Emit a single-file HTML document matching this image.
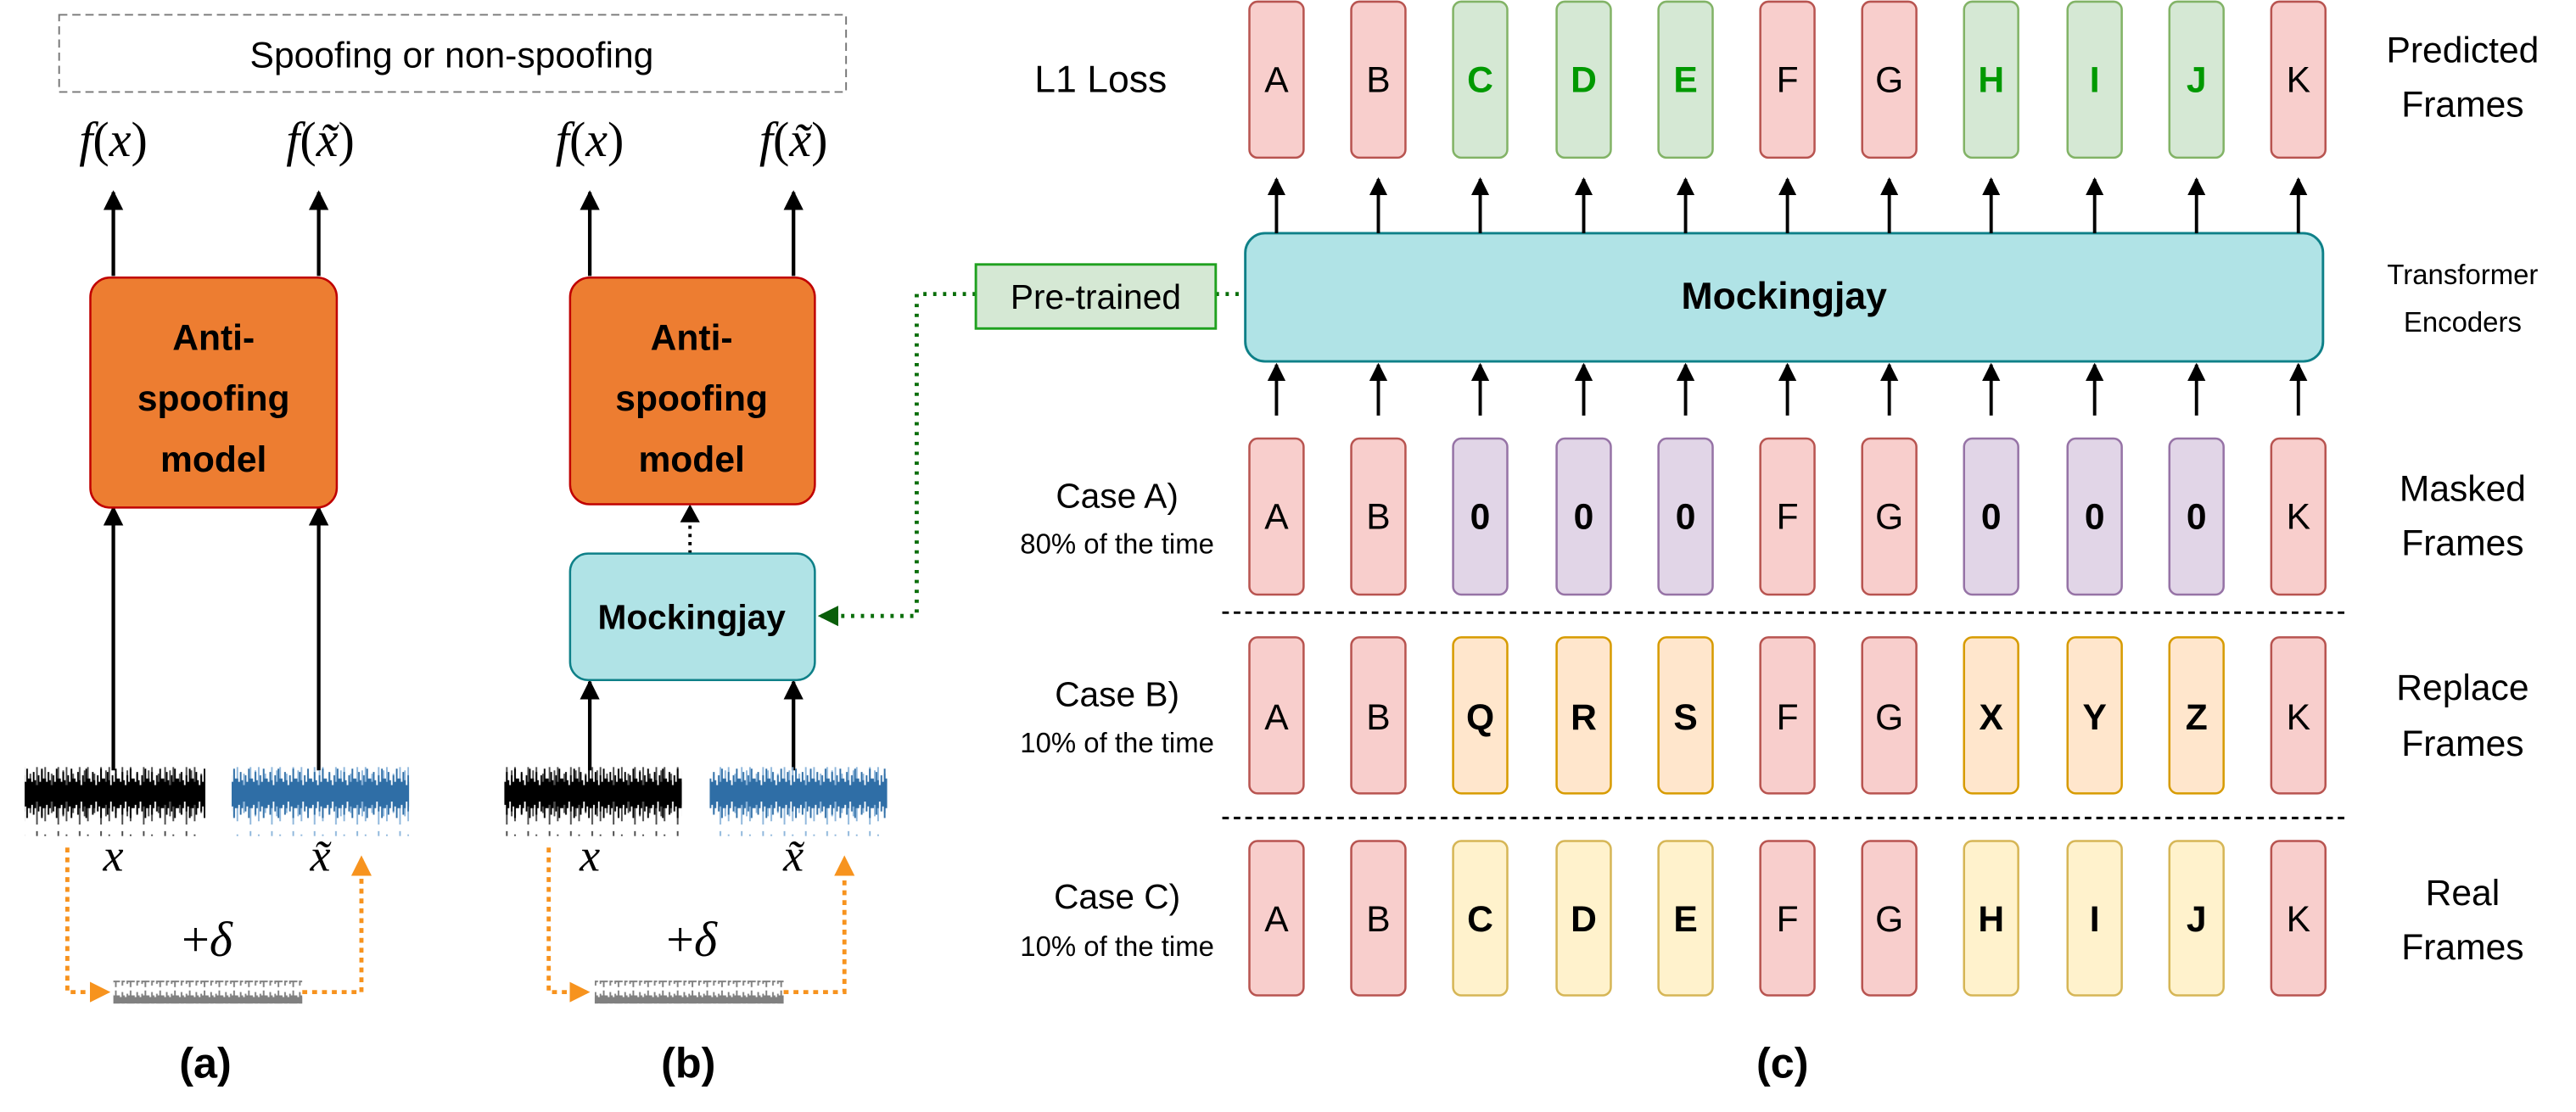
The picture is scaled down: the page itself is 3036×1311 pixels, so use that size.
<!DOCTYPE html>
<html><head><meta charset="utf-8"><style>html,body{margin:0;padding:0;background:#fff}svg{display:block}</style></head><body>
<svg width="3036" height="1311" viewBox="0 0 1568 677" preserveAspectRatio="none" xmlns="http://www.w3.org/2000/svg" font-family="Liberation Sans, sans-serif">
<defs>
<marker id="ah" viewBox="0 0 10 10" refX="9" refY="5" markerWidth="5.5" markerHeight="6" orient="auto" markerUnits="strokeWidth"><path d="M0,0 L10,5 L0,10 z" fill="#000"/></marker>
<marker id="ao" viewBox="0 0 10 10" refX="9" refY="5" markerWidth="5" markerHeight="5" orient="auto" markerUnits="strokeWidth"><path d="M0,0 L10,5 L0,10 z" fill="#f7931e"/></marker>
<marker id="ag" viewBox="0 0 10 10" refX="9" refY="5" markerWidth="5" markerHeight="5" orient="auto" markerUnits="strokeWidth"><path d="M0,0 L10,5 L0,10 z" fill="#0a5e0a"/></marker>
<pattern id="wk" width="9" height="42" patternUnits="userSpaceOnUse"><path d="M0.5,12V30M1.5,14V28M2.5,8V34M3.5,13V30M4.5,16V26M5.5,10V32M6.5,14V29M7.5,6V36M8.5,12V30" stroke="#000" stroke-width="1"/></pattern>
<pattern id="wk2" width="13" height="42" patternUnits="userSpaceOnUse"><path d="M1.5,4V38M5.5,9V33M9.5,2V40M12.5,7V35" stroke="#000" stroke-width="1" opacity="0.7"/></pattern>
<pattern id="wb" width="9" height="42" patternUnits="userSpaceOnUse"><path d="M0.5,12V30M1.5,14V28M2.5,8V34M3.5,13V30M4.5,16V26M5.5,10V32M6.5,14V29M7.5,6V36M8.5,12V30" stroke="#2f6ea6" stroke-width="1"/></pattern>
<pattern id="wb2" width="13" height="42" patternUnits="userSpaceOnUse"><path d="M1.5,4V38M5.5,9V33M9.5,2V40M12.5,7V35" stroke="#8fb7dc" stroke-width="1"/></pattern>
<pattern id="wg" width="9" height="14" patternUnits="userSpaceOnUse"><path d="M0.5,4V10M1.5,5V9M2.5,2V12M3.5,4V10M4.5,5V9M5.5,3V11M6.5,4V10M7.5,1V13M8.5,4V10" stroke="#808080" stroke-width="1"/></pattern>
</defs>

<rect x="36" y="9" width="479" height="47" fill="none" stroke="#777" stroke-width="1" stroke-dasharray="5,3"/>
<text x="275" y="41" font-size="22" text-anchor="middle">Spoofing or non-spoofing</text>

<g font-family="Liberation Serif, serif" font-size="30" text-anchor="middle">
<text x="69" y="95"><tspan font-style="italic">f</tspan>(<tspan font-style="italic">x</tspan>)</text>
<text x="195" y="95"><tspan font-style="italic">f</tspan>(<tspan font-style="italic">x̃</tspan>)</text>
<text x="359" y="95"><tspan font-style="italic">f</tspan>(<tspan font-style="italic">x</tspan>)</text>
<text x="483" y="95"><tspan font-style="italic">f</tspan>(<tspan font-style="italic">x̃</tspan>)</text>
</g>

<g stroke="#000" stroke-width="2.2" marker-end="url(#ah)">
<line x1="69" y1="168" x2="69" y2="117"/><line x1="194" y1="168" x2="194" y2="117"/>
<line x1="359" y1="168" x2="359" y2="117"/><line x1="483" y1="168" x2="483" y2="117"/>
<line x1="69" y1="469" x2="69" y2="309"/><line x1="194" y1="469" x2="194" y2="309"/>
<line x1="359" y1="469" x2="359" y2="415"/><line x1="483" y1="469" x2="483" y2="415"/>
</g>
<line x1="420" y1="337" x2="420" y2="308" stroke="#000" stroke-width="2" stroke-dasharray="2,3"/>
<path d="M414,318 L426,318 L420,307 z" fill="#000"/>

<g font-weight="bold" font-size="22" text-anchor="middle">
<rect x="55" y="169" width="150" height="140" rx="12" fill="#ed7d31" stroke="#c00000" stroke-width="1.3"/>
<text x="130" y="213">Anti-</text><text x="130" y="250">spoofing</text><text x="130" y="287">model</text>
<rect x="347" y="169" width="149" height="138" rx="12" fill="#ed7d31" stroke="#c00000" stroke-width="1.3"/>
<text x="421" y="213">Anti-</text><text x="421" y="250">spoofing</text><text x="421" y="287">model</text>
<rect x="347" y="337" width="149" height="77" rx="11" fill="#b0e3e6" stroke="#0e8088" stroke-width="1.3"/>
<text x="421" y="383" font-size="21">Mockingjay</text>
</g>

<rect x="15" y="467" width="110" height="42" fill="url(#wk)"/><rect x="15" y="467" width="110" height="42" fill="url(#wk2)"/>
<rect x="141" y="467" width="108" height="42" fill="url(#wb2)"/><rect x="141" y="467" width="108" height="42" fill="url(#wb)"/>
<rect x="307" y="467" width="108" height="42" fill="url(#wk)"/><rect x="307" y="467" width="108" height="42" fill="url(#wk2)"/>
<rect x="432" y="467" width="108" height="42" fill="url(#wb2)"/><rect x="432" y="467" width="108" height="42" fill="url(#wb)"/>
<rect x="69" y="597" width="115" height="14" fill="url(#wg)"/>
<rect x="362" y="597" width="115" height="14" fill="url(#wg)"/>

<g font-family="Liberation Serif, serif" font-style="italic" font-size="28" text-anchor="middle">
<text x="69" y="530">x</text><text x="195" y="530">x̃</text>
<text x="359" y="530">x</text><text x="483" y="530">x̃</text>
</g>
<g font-family="Liberation Serif, serif" font-size="30" text-anchor="middle">
<text x="126" y="582">+<tspan font-style="italic">δ</tspan></text>
<text x="421" y="582">+<tspan font-style="italic">δ</tspan></text>
</g>

<g fill="none" stroke="#f7931e" stroke-width="2.5" stroke-dasharray="3,3">
<polyline points="41,516 41,604 66,604" marker-end="url(#ao)"/>
<polyline points="184,604 220,604 220,522" marker-end="url(#ao)"/>
<polyline points="334,516 334,604 358,604" marker-end="url(#ao)"/>
<polyline points="477,604 514,604 514,522" marker-end="url(#ao)"/>
</g>

<g font-weight="bold" font-size="26" text-anchor="middle">
<text x="125" y="656">(a)</text><text x="419" y="656">(b)</text><text x="1085" y="656">(c)</text>
</g>

<g fill="none" stroke="#0a6e0a" stroke-width="2.5" stroke-dasharray="2,4">
<polyline points="594,179 558,179 558,375 499,375" marker-end="url(#ag)"/>
<line x1="740" y1="179" x2="758" y2="179"/>
</g>
<rect x="594" y="161" width="146" height="39" fill="#d5e8d4" stroke="#1fa11f" stroke-width="1.5"/>
<text x="667" y="188" font-size="21" text-anchor="middle">Pre-trained</text>

<rect x="758" y="142" width="656" height="78" rx="12" fill="#b0e3e6" stroke="#0e8088" stroke-width="1.5"/>
<text x="1086" y="188" font-size="23" font-weight="bold" text-anchor="middle">Mockingjay</text>

<g stroke="#000" stroke-width="2" marker-end="url(#ah)">
<line x1="777" y1="142" x2="777" y2="109"/><line x1="839" y1="142" x2="839" y2="109"/><line x1="901" y1="142" x2="901" y2="109"/><line x1="964" y1="142" x2="964" y2="109"/><line x1="1026" y1="142" x2="1026" y2="109"/><line x1="1088" y1="142" x2="1088" y2="109"/><line x1="1150" y1="142" x2="1150" y2="109"/><line x1="1212" y1="142" x2="1212" y2="109"/><line x1="1275" y1="142" x2="1275" y2="109"/><line x1="1337" y1="142" x2="1337" y2="109"/><line x1="1399" y1="142" x2="1399" y2="109"/>
<line x1="777" y1="253" x2="777" y2="222"/><line x1="839" y1="253" x2="839" y2="222"/><line x1="901" y1="253" x2="901" y2="222"/><line x1="964" y1="253" x2="964" y2="222"/><line x1="1026" y1="253" x2="1026" y2="222"/><line x1="1088" y1="253" x2="1088" y2="222"/><line x1="1150" y1="253" x2="1150" y2="222"/><line x1="1212" y1="253" x2="1212" y2="222"/><line x1="1275" y1="253" x2="1275" y2="222"/><line x1="1337" y1="253" x2="1337" y2="222"/><line x1="1399" y1="253" x2="1399" y2="222"/>
</g>

<g stroke-width="1.3">
<g>
<rect x="760.5" y="1" width="33" height="95" rx="5" fill="#f8cecc" stroke="#b85450"/>
<rect x="822.5" y="1" width="33" height="95" rx="5" fill="#f8cecc" stroke="#b85450"/>
<rect x="884.5" y="1" width="33" height="95" rx="5" fill="#d5e8d4" stroke="#82b366"/>
<rect x="947.5" y="1" width="33" height="95" rx="5" fill="#d5e8d4" stroke="#82b366"/>
<rect x="1009.5" y="1" width="33" height="95" rx="5" fill="#d5e8d4" stroke="#82b366"/>
<rect x="1071.5" y="1" width="33" height="95" rx="5" fill="#f8cecc" stroke="#b85450"/>
<rect x="1133.5" y="1" width="33" height="95" rx="5" fill="#f8cecc" stroke="#b85450"/>
<rect x="1195.5" y="1" width="33" height="95" rx="5" fill="#d5e8d4" stroke="#82b366"/>
<rect x="1258.5" y="1" width="33" height="95" rx="5" fill="#d5e8d4" stroke="#82b366"/>
<rect x="1320.5" y="1" width="33" height="95" rx="5" fill="#d5e8d4" stroke="#82b366"/>
<rect x="1382.5" y="1" width="33" height="95" rx="5" fill="#f8cecc" stroke="#b85450"/>
</g>
<g>
<rect x="760.5" y="267" width="33" height="95" rx="5" fill="#f8cecc" stroke="#b85450"/>
<rect x="822.5" y="267" width="33" height="95" rx="5" fill="#f8cecc" stroke="#b85450"/>
<rect x="884.5" y="267" width="33" height="95" rx="5" fill="#e1d5e7" stroke="#9673a6"/>
<rect x="947.5" y="267" width="33" height="95" rx="5" fill="#e1d5e7" stroke="#9673a6"/>
<rect x="1009.5" y="267" width="33" height="95" rx="5" fill="#e1d5e7" stroke="#9673a6"/>
<rect x="1071.5" y="267" width="33" height="95" rx="5" fill="#f8cecc" stroke="#b85450"/>
<rect x="1133.5" y="267" width="33" height="95" rx="5" fill="#f8cecc" stroke="#b85450"/>
<rect x="1195.5" y="267" width="33" height="95" rx="5" fill="#e1d5e7" stroke="#9673a6"/>
<rect x="1258.5" y="267" width="33" height="95" rx="5" fill="#e1d5e7" stroke="#9673a6"/>
<rect x="1320.5" y="267" width="33" height="95" rx="5" fill="#e1d5e7" stroke="#9673a6"/>
<rect x="1382.5" y="267" width="33" height="95" rx="5" fill="#f8cecc" stroke="#b85450"/>
</g>
<g>
<rect x="760.5" y="388" width="33" height="95" rx="5" fill="#f8cecc" stroke="#b85450"/>
<rect x="822.5" y="388" width="33" height="95" rx="5" fill="#f8cecc" stroke="#b85450"/>
<rect x="884.5" y="388" width="33" height="95" rx="5" fill="#ffe6cc" stroke="#d79b00"/>
<rect x="947.5" y="388" width="33" height="95" rx="5" fill="#ffe6cc" stroke="#d79b00"/>
<rect x="1009.5" y="388" width="33" height="95" rx="5" fill="#ffe6cc" stroke="#d79b00"/>
<rect x="1071.5" y="388" width="33" height="95" rx="5" fill="#f8cecc" stroke="#b85450"/>
<rect x="1133.5" y="388" width="33" height="95" rx="5" fill="#f8cecc" stroke="#b85450"/>
<rect x="1195.5" y="388" width="33" height="95" rx="5" fill="#ffe6cc" stroke="#d79b00"/>
<rect x="1258.5" y="388" width="33" height="95" rx="5" fill="#ffe6cc" stroke="#d79b00"/>
<rect x="1320.5" y="388" width="33" height="95" rx="5" fill="#ffe6cc" stroke="#d79b00"/>
<rect x="1382.5" y="388" width="33" height="95" rx="5" fill="#f8cecc" stroke="#b85450"/>
</g>
<g>
<rect x="760.5" y="512" width="33" height="94" rx="5" fill="#f8cecc" stroke="#b85450"/>
<rect x="822.5" y="512" width="33" height="94" rx="5" fill="#f8cecc" stroke="#b85450"/>
<rect x="884.5" y="512" width="33" height="94" rx="5" fill="#fff2cc" stroke="#d6b656"/>
<rect x="947.5" y="512" width="33" height="94" rx="5" fill="#fff2cc" stroke="#d6b656"/>
<rect x="1009.5" y="512" width="33" height="94" rx="5" fill="#fff2cc" stroke="#d6b656"/>
<rect x="1071.5" y="512" width="33" height="94" rx="5" fill="#f8cecc" stroke="#b85450"/>
<rect x="1133.5" y="512" width="33" height="94" rx="5" fill="#f8cecc" stroke="#b85450"/>
<rect x="1195.5" y="512" width="33" height="94" rx="5" fill="#fff2cc" stroke="#d6b656"/>
<rect x="1258.5" y="512" width="33" height="94" rx="5" fill="#fff2cc" stroke="#d6b656"/>
<rect x="1320.5" y="512" width="33" height="94" rx="5" fill="#fff2cc" stroke="#d6b656"/>
<rect x="1382.5" y="512" width="33" height="94" rx="5" fill="#f8cecc" stroke="#b85450"/>
</g>
</g>

<g stroke="#000" stroke-width="1.5" stroke-dasharray="4,3">
<line x1="744" y1="373" x2="1430" y2="373"/><line x1="744" y1="498" x2="1430" y2="498"/>
</g>

<g font-size="22" text-anchor="middle">
<g>
<text x="777" y="56">A</text><text x="839" y="56">B</text>
<text x="901" y="56" fill="#009900" font-weight="bold">C</text><text x="964" y="56" fill="#009900" font-weight="bold">D</text><text x="1026" y="56" fill="#009900" font-weight="bold">E</text>
<text x="1088" y="56">F</text><text x="1150" y="56">G</text>
<text x="1212" y="56" fill="#009900" font-weight="bold">H</text><text x="1275" y="56" fill="#009900" font-weight="bold">I</text><text x="1337" y="56" fill="#009900" font-weight="bold">J</text>
<text x="1399" y="56">K</text>
</g>
<g>
<text x="777" y="322">A</text><text x="839" y="322">B</text>
<text x="901" y="322" font-weight="bold">0</text><text x="964" y="322" font-weight="bold">0</text><text x="1026" y="322" font-weight="bold">0</text>
<text x="1088" y="322">F</text><text x="1150" y="322">G</text>
<text x="1212" y="322" font-weight="bold">0</text><text x="1275" y="322" font-weight="bold">0</text><text x="1337" y="322" font-weight="bold">0</text>
<text x="1399" y="322">K</text>
</g>
<g>
<text x="777" y="444">A</text><text x="839" y="444">B</text>
<text x="901" y="444" font-weight="bold">Q</text><text x="964" y="444" font-weight="bold">R</text><text x="1026" y="444" font-weight="bold">S</text>
<text x="1088" y="444">F</text><text x="1150" y="444">G</text>
<text x="1212" y="444" font-weight="bold">X</text><text x="1275" y="444" font-weight="bold">Y</text><text x="1337" y="444" font-weight="bold">Z</text>
<text x="1399" y="444">K</text>
</g>
<g>
<text x="777" y="567">A</text><text x="839" y="567">B</text>
<text x="901" y="567" font-weight="bold">C</text><text x="964" y="567" font-weight="bold">D</text><text x="1026" y="567" font-weight="bold">E</text>
<text x="1088" y="567">F</text><text x="1150" y="567">G</text>
<text x="1212" y="567" font-weight="bold">H</text><text x="1275" y="567" font-weight="bold">I</text><text x="1337" y="567" font-weight="bold">J</text>
<text x="1399" y="567">K</text>
</g>
</g>

<g text-anchor="middle">
<text x="670" y="56" font-size="23">L1 Loss</text>
<text x="680" y="309" font-size="21">Case A)</text><text x="680" y="337" font-size="17">80% of the time</text>
<text x="680" y="430" font-size="21">Case B)</text><text x="680" y="458" font-size="17">10% of the time</text>
<text x="680" y="553" font-size="21">Case C)</text><text x="680" y="582" font-size="17">10% of the time</text>
</g>
<g text-anchor="middle" font-size="22">
<text x="1499" y="38">Predicted</text><text x="1499" y="71">Frames</text>
<text x="1499" y="173" font-size="17">Transformer</text><text x="1499" y="202" font-size="17">Encoders</text>
<text x="1499" y="305">Masked</text><text x="1499" y="338">Frames</text>
<text x="1499" y="426">Replace</text><text x="1499" y="460">Frames</text>
<text x="1499" y="551">Real</text><text x="1499" y="584">Frames</text>
</g>
</svg>
</body></html>
